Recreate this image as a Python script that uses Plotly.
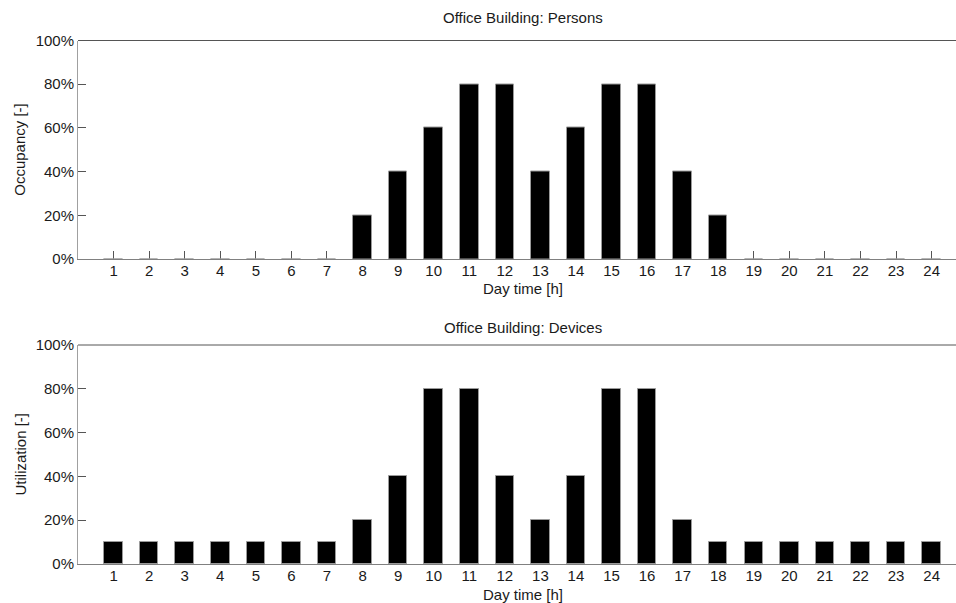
import plotly.graph_objects as go

# Hourly profiles for an office building
hours = list(range(1, 25))
persons_pct = [0, 0, 0, 0, 0, 0, 0, 20, 40, 60, 80, 80, 40, 60, 80, 80, 40, 20, 0, 0, 0, 0, 0, 0]
devices_pct = [10, 10, 10, 10, 10, 10, 10, 20, 40, 80, 80, 40, 20, 40, 80, 80, 20, 10, 10, 10, 10, 10, 10, 10]
y_ticks = [0, 20, 40, 60, 80, 100]
y_tick_labels = [f"{v}%" for v in y_ticks]

W, H = 956, 603
LEFT = 78
X_MAX = 24.685          # axis runs from 0 to 25; the right part is cut off
FONT = "Liberation Sans, Arial, sans-serif"
FS = 15


def py(pixel_y):
    return 1 - pixel_y / H


fig = go.Figure()

bar_style = dict(color="black", line=dict(color="#9a9a9a", width=1))
fig.add_trace(go.Bar(x=hours, y=persons_pct, width=0.52, marker=bar_style,
                     xaxis="x", yaxis="y", showlegend=False))
fig.add_trace(go.Bar(x=hours, y=devices_pct, width=0.52, marker=bar_style,
                     xaxis="x2", yaxis="y2", showlegend=False))

xcommon = dict(range=[0, X_MAX], tickmode="array", tickvals=hours,
               ticktext=[str(h) for h in hours], ticks="inside", ticklen=8,
               tickwidth=1, tickcolor="#555555", showline=True, linecolor="#808080",
               linewidth=1, showgrid=False, zeroline=False, automargin=False,
               layer="below traces", ticklabelstandoff=-2,
               tickfont=dict(family=FONT, size=FS, color="#1a1a1a"), domain=[0, 1])
ycommon = dict(range=[0, 100], tickmode="array", tickvals=y_ticks, ticktext=y_tick_labels,
               ticks="inside", ticklen=8, tickwidth=1, tickcolor="#555555",
               showline=True, linecolor="#a0a0a0", linewidth=1, showgrid=False,
               zeroline=False, automargin=False, layer="below traces",
               tickfont=dict(family=FONT, size=FS, color="#1a1a1a"))

top_dom = [py(259), py(40.5)]
bot_dom = [py(564), py(345)]

fig.update_layout(
    width=W, height=H,
    margin=dict(l=LEFT, r=0, t=0, b=0),
    paper_bgcolor="white", plot_bgcolor="white",
    bargap=0,
    xaxis=dict(**xcommon, anchor="y"),
    yaxis=dict(**ycommon, domain=top_dom, anchor="x"),
    xaxis2=dict(**xcommon, anchor="y2"),
    yaxis2=dict(**ycommon, domain=bot_dom, anchor="x2"),
)

# top box lines
for dom in (top_dom, bot_dom):
    fig.add_shape(type="line", xref="paper", yref="paper", x0=0, x1=1,
                  y0=dom[1], y1=dom[1], line=dict(color="#555555", width=1))

# subplot titles and x-axis titles, centred on the full 0..25 axis
for txt, ypx in (("Office Building: Persons", 18), ("Day time [h]", 289),
                 ("Office Building: Devices", 327), ("Day time [h]", 594)):
    fig.add_annotation(text=txt, x=12.5, xref="x", y=py(ypx), yref="paper",
                       showarrow=False, xanchor="center", yanchor="middle",
                       font=dict(family=FONT, size=FS, color="#1a1a1a"))

# y-axis titles
for txt, dom in (("Occupancy [-]", top_dom), ("Utilization [-]", bot_dom)):
    fig.add_annotation(text=txt, x=(20 - LEFT) / (W - LEFT), xref="paper",
                       y=(dom[0] + dom[1]) / 2, yref="paper", showarrow=False,
                       textangle=-90, xanchor="center", yanchor="middle",
                       font=dict(family=FONT, size=FS, color="#1a1a1a"))

fig.write_html("out.html")
